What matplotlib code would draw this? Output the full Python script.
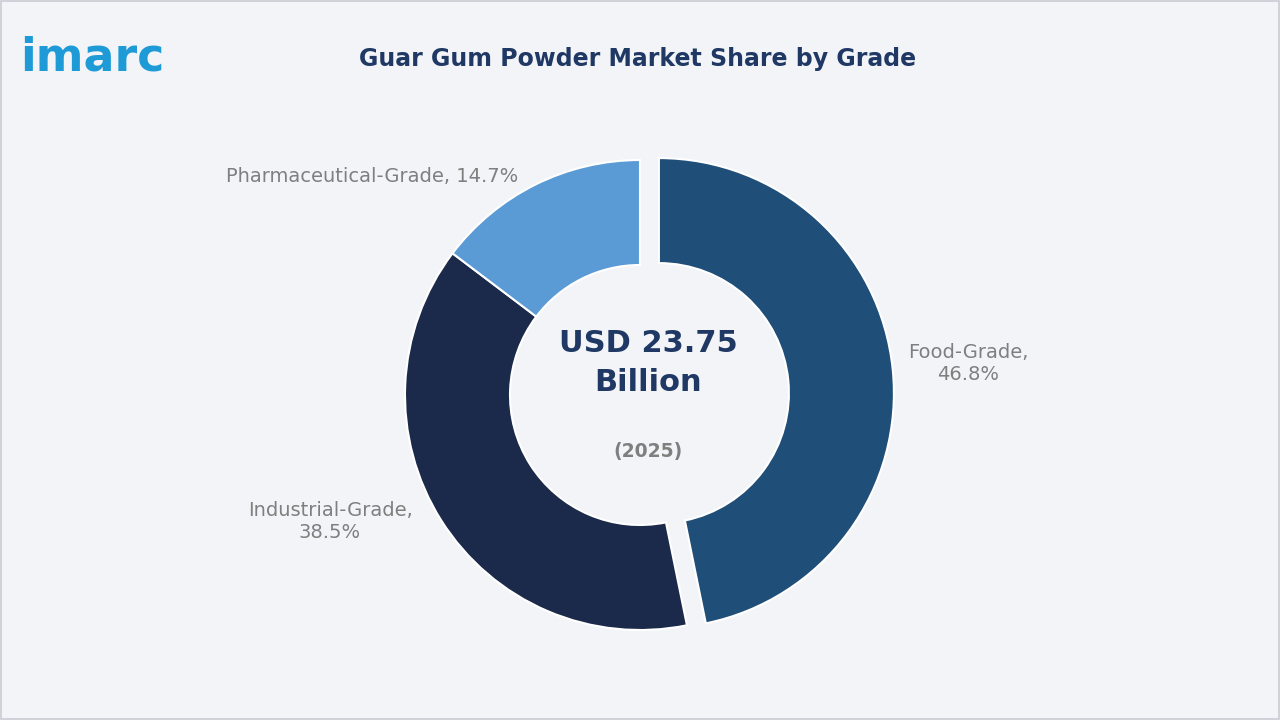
import matplotlib
matplotlib.use("Agg")
import matplotlib.pyplot as plt

categories = ["Food-Grade", "Industrial-Grade", "Pharmaceutical-Grade"]
shares = [46.8, 38.5, 14.7]
colors = ["#1f4e79", "#1b2a4a", "#5b9bd5"]
title = "Guar Gum Powder Market Share by Grade"
center_value = "USD 23.75\nBillion"
center_year = "(2025)"

fig = plt.figure(figsize=(12.8, 7.2), dpi=100)
fig.patch.set_facecolor("#f2f4f7")
ax = fig.add_axes([0, 0, 1, 1])
ax.set_xlim(0, 1280); ax.set_ylim(0, 720); ax.set_aspect("equal"); ax.axis("off")
ax.add_patch(plt.Rectangle((1, 1), 1278, 718, fill=False, ec="#c8ccd2", lw=1.2))

ax.pie(shares, colors=colors, startangle=90, counterclock=False, radius=235,
       center=(640, 325), explode=[19, 0, 0],
       wedgeprops=dict(width=105, edgecolor="white", linewidth=1.5))
ax.set_xlim(0, 1280); ax.set_ylim(0, 720)

ax.text(648, 357, center_value, ha="center", va="center", fontsize=22,
        fontweight="bold", color="#1f3864", linespacing=1.4)
ax.text(648, 268, center_year, ha="center", va="center", fontsize=13.5,
        fontweight="bold", color="#7f7f7f")

lab = dict(fontsize=14, color="#7f7f7f", ha="center", va="center", fontweight="medium")
ax.text(968, 357, "Food-Grade,\n46.8%", **lab)
ax.text(330, 198, "Industrial-Grade,\n38.5%", **lab)
ax.text(372, 543, "Pharmaceutical-Grade, 14.7%", **lab)

ax.text(638, 661, title, ha="center", va="center", fontsize=17,
        fontweight="bold", color="#1f3864")
ax.text(20, 662, "imarc", ha="left", va="center", fontsize=33,
        fontweight="bold", color="#1e9bd7", family="Nunito" if False else "DejaVu Sans")

fig.savefig("out.png", dpi=100, facecolor=fig.get_facecolor())
